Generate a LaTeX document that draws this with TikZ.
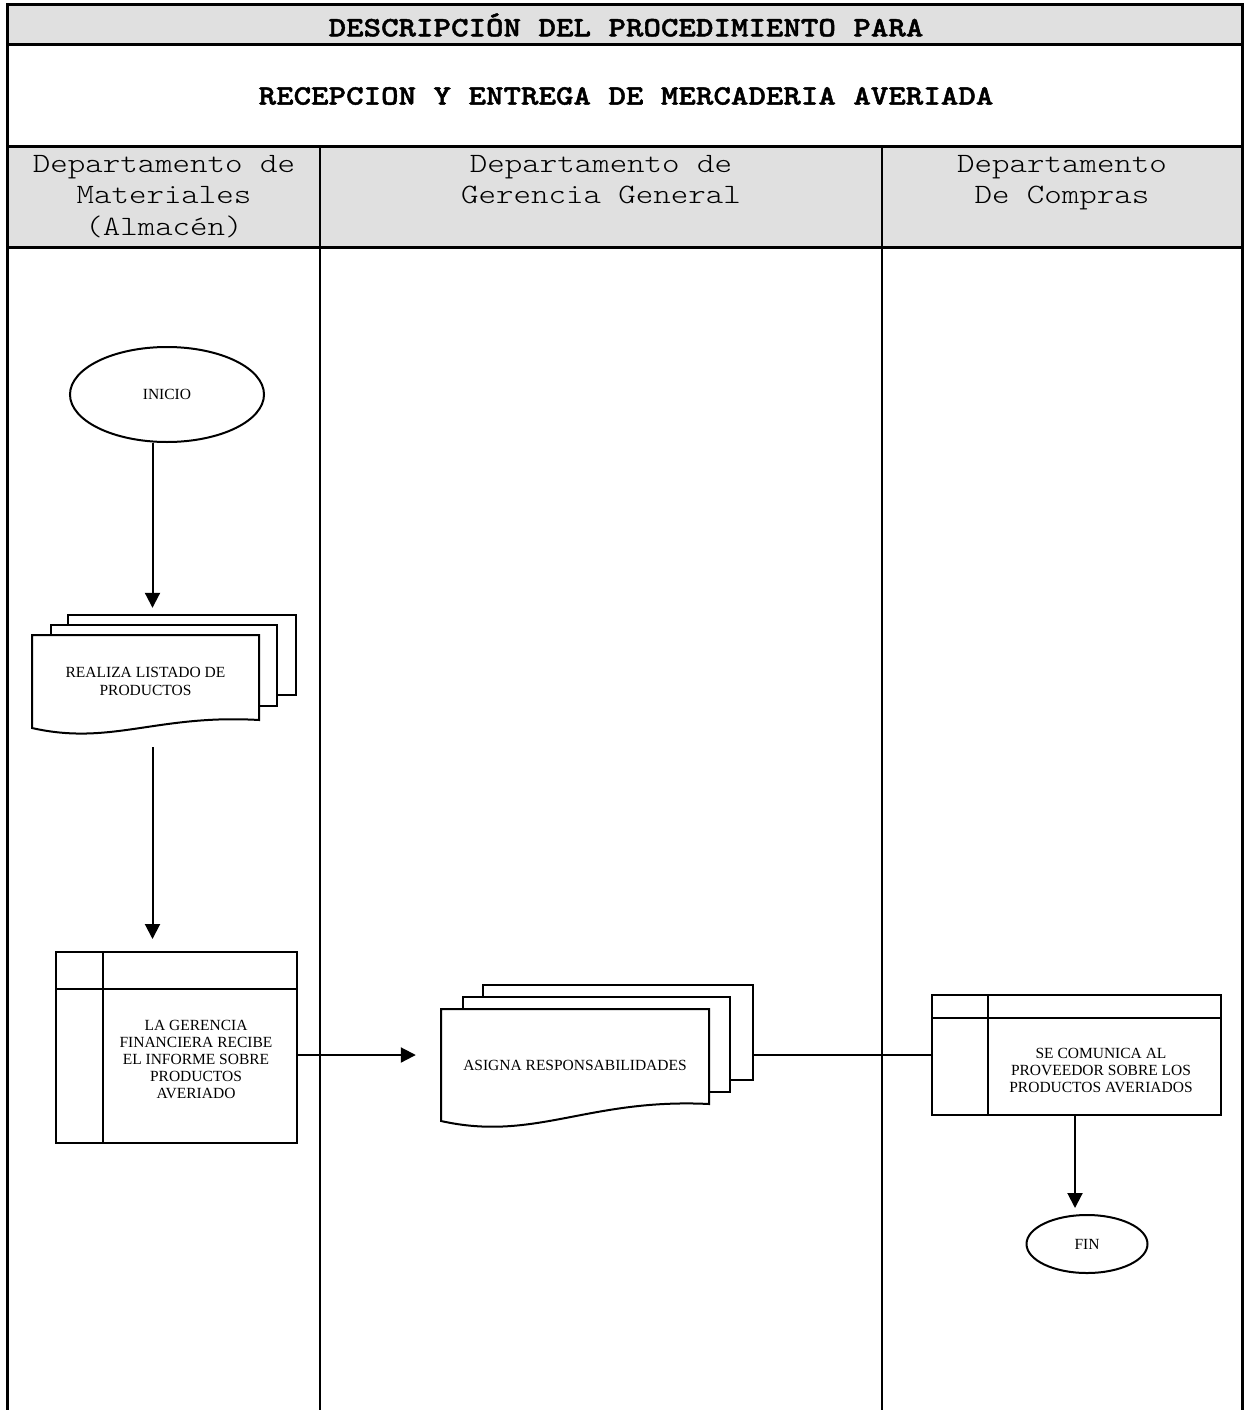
\documentclass[tikz,border=0pt]{standalone}
\usepackage{fontspec}
\setmainfont{Liberation Serif}
\newfontfamily\courfont{lmmonolt10-regular.otf}[FakeStretch=1.19]
\newfontfamily\courbold{lmmonolt10-bold.otf}[FakeStretch=1.19, FakeBold=1.6]
\usetikzlibrary{arrows.meta,shapes.geometric,backgrounds,calc}
\definecolor{hdrgray}{RGB}{224,224,224}

\tikzset{
  frameline/.style={line width=3pt},
  laneline/.style={line width=2.4pt},
  shp/.style={line width=2pt, draw=black},
  sheet/.style={shp, fill=white},
  flow/.style={line width=2pt, -{Triangle[width=15pt,length=15pt]}},
  titletext/.style={font=\courbold\fontsize{28}{31}\selectfont, inner sep=0pt},
  lanetext/.style={font=\courfont\fontsize{28}{31.5}\selectfont, align=center, inner sep=0pt, anchor=north},
  boxtext/.style={font=\fontsize{15.5}{17}\selectfont, align=center, inner sep=0pt},
  terminal/.style={ellipse, shp, fill=white, inner sep=0pt, font=\fontsize{15.5}{17}\selectfont},
  process/.style={rectangle, shp, fill=white, inner sep=0pt},
  docfront/.style={rectangle, inner sep=0pt, align=center, font=\fontsize{15.5}{18}\selectfont},
}

\begin{document}
\begin{tikzpicture}[x=1pt, y=-1pt]
\useasboundingbox (0,0) rectangle (1248,1410);

% header bands
\fill[hdrgray] (7,5) rectangle (1242,45);
\fill[hdrgray] (7,146) rectangle (1242,247);

% outer frame, header rows and swimlane dividers
\draw[frameline] (7,1410) -- (7,5) -- (1242,5) -- (1242,1410);
\draw[frameline] (7,45) -- (1242,45);
\draw[frameline] (7,146) -- (1242,146);
\draw[frameline] (7,247) -- (1242,247);
\draw[laneline] (320,146) -- (320,1410);
\draw[laneline] (882,146) -- (882,1410);

% titles
\node[titletext] (titulo) at (626,25) {DESCRIPCIÓN DEL PROCEDIMIENTO PARA};
\node[titletext] (subtitulo) at (626,96) {RECEPCION Y ENTREGA DE MERCADERIA AVERIADA};

% lane headers
\node[lanetext] (almacen) at (164,155) {Departamento de\\Materiales\\(Almacén)};
\node[lanetext] (gerencia) at (601,155) {Departamento de\\Gerencia General};
\node[lanetext] (compras) at (1062,155) {Departamento\\De Compras};

% flow elements
\node[terminal, minimum width=194pt, minimum height=95pt] (inicio) at (167,394.5) {\raisebox{-3pt}{INICIO}};

\node[docfront, minimum width=227pt, minimum height=93pt] (realiza) at (145.5,681.5)
  {REALIZA LISTADO DE\\PRODUCTOS};

\node[process, minimum width=241pt, minimum height=191pt] (caja1) at (176.5,1047.5) {};
\draw[shp] (103,952) -- (103,1143);
\draw[shp] (56,989) -- (297,989);
\node[boxtext] (caja1txt) at (196,1059)
  {LA GERENCIA\\FINANCIERA RECIBE\\EL INFORME SOBRE\\PRODUCTOS\\AVERIADO};

\node[docfront, minimum width=268pt, minimum height=112pt] (asigna) at (575,1065)
  {ASIGNA RESPONSABILIDADES};

\node[process, minimum width=289pt, minimum height=120pt] (caja2) at (1076.5,1055) {};
\draw[shp] (988,995) -- (988,1115);
\draw[shp] (932,1018) -- (1221,1018);
\node[boxtext] (caja2txt) at (1101,1070)
  {SE COMUNICA AL\\PROVEEDOR SOBRE LOS\\PRODUCTOS AVERIADOS};

\node[terminal, minimum width=121pt, minimum height=58pt] (fin) at (1087,1244) {FIN};

% stacked document sheets behind the text nodes
\begin{scope}[on background layer]
  \draw[sheet] (68,615) rectangle (296,695);
  \draw[sheet] (51,625) rectangle (277,706);
  \draw[sheet] (32,728) -- (32,635) -- (259,635) -- (259,720)
    .. controls (157,714) and (111,746) .. (32,728) -- cycle;

  \draw[sheet] (483,985) rectangle (753,1080);
  \draw[sheet] (463,997) rectangle (730,1092);
  \draw[sheet] (441,1121) -- (441,1009) -- (709,1009) -- (709,1104)
    .. controls (588,1098) and (535,1142) .. (441,1121) -- cycle;
\end{scope}

% connector guides
\coordinate (colA) at (152.5,0);
\coordinate (colC) at (1075,0);
\coordinate (filaB) at (0,1055);
\coordinate (asignaborde) at (753,1055);

% connectors
\draw[flow, shorten >=27pt] (inicio.south -| colA) -- (realiza.north -| colA);
\draw[flow, shorten <=19pt, shorten >=12pt] (realiza.south -| colA) -- (caja1.north -| colA);
\draw[flow, shorten >=25pt] (caja1.east |- filaB) -- (asigna.west |- filaB);
\draw[line width=2pt] (asignaborde) -- (caja2.west |- filaB);
\draw[flow, shorten >=6pt] (caja2.south -| colC) -- (fin.north -| colC);
\end{tikzpicture}
\end{document}
